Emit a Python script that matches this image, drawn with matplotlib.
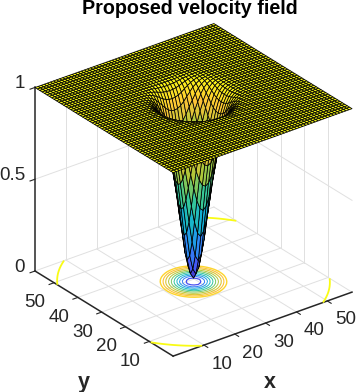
import numpy as np
import matplotlib
matplotlib.use("Agg")
import matplotlib.pyplot as plt
from matplotlib.colors import LinearSegmentedColormap, Normalize
from mpl_toolkits.mplot3d import proj3d

plt.rcParams['font.family'] = ['Liberation Sans', 'DejaVu Sans']

# Values
x_ticks = [10, 20, 30, 40, 50]
y_ticks = [10, 20, 30, 40, 50]
z_ticks = [0, 0.5, 1]
z_tick_labels = ['0', '0.5', '1']
axis_max = 58
pit_centre = 29
profile_radius = [0, 1, 2, 3, 4, 5, 6, 7, 8, 9, 10, 11, 12, 14, 20, 34, 36, 45]
profile_height = [0.02, 0.05, 0.13, 0.27, 0.42, 0.56, 0.68, 0.79, 0.87, 0.925, 0.96, 0.98, 0.99, 0.995, 0.997, 0.9989, 0.9991, 0.9995]
contour_levels = [0.13, 0.255, 0.36, 0.46, 0.56, 0.645, 0.725, 0.80, 0.855, 0.90, 0.999]
contour_widths = [0.9, 0.7, 0.7, 0.7, 0.7, 0.7, 0.7, 0.8, 0.8, 1.0, 1.3]
parula_colors = [(0.2422, 0.1504, 0.6603), (0.2810, 0.3228, 0.9579), (0.1786, 0.5289, 0.9682),
                 (0.0689, 0.6948, 0.8394), (0.2161, 0.7843, 0.5923), (0.6720, 0.7793, 0.2227),
                 (0.9970, 0.7659, 0.2199), (0.9769, 0.9839, 0.0805)]

W, H = 357, 392
fig = plt.figure(figsize=(W / 100, H / 100), dpi=100, facecolor='white')
ax = fig.add_axes([0, 0, 1, 1], projection='3d', computed_zorder=False)
ax.set_proj_type('ortho')
ax.view_init(elev=28, azim=232.7)
ax.set_box_aspect((225, 228, 208))
ax.set_xlim(0, axis_max, view_margin=0)
ax.set_ylim(0, axis_max, view_margin=0)
ax.set_zlim(0, 1, view_margin=0)
ax.set_axis_off()
ax.patch.set_alpha(0)

# Fit the box onto the pixel corners of the reference
M = ax.get_proj()
cx, cy, _ = proj3d.proj_transform(np.array([0., axis_max, axis_max, 0.]), np.array([axis_max, 0., axis_max, 0.]), np.zeros(4), M)
xlo, xhi = ax.viewLim.intervalx
ylo, yhi = ax.viewLim.intervaly
span = xhi - xlo
size = (352 - 35) * span / (cx[1] - cx[0])
left = 35 - (cx[0] - xlo) / span * size
bottom = (H - 271) - (cy[0] - ylo) / span * size
ax.set_position([left / W, bottom / H, size / W, size / H])


def label(x, y, z, text, dx=0, dy=0, **kw):
    """Place text at a 3D data point, offset by screen pixels."""
    px, py, _ = proj3d.proj_transform(x, y, z, M)
    fx = (left + (px - xlo) / span * size + dx) / W
    fy = (bottom + (py - ylo) / span * size + dy) / H
    fig.text(fx, fy, text, color=axc, **kw)


cmap = LinearSegmentedColormap.from_list('parula', parula_colors, N=256)
norm = Normalize(0, 1)

grid_col = '#e0e0e0'
glw = 0.7
for t in x_ticks:
    ax.plot([t, t], [0, axis_max], [0, 0], color=grid_col, lw=glw, zorder=1)
    ax.plot([t, t], [axis_max, axis_max], [0, 1], color=grid_col, lw=glw, zorder=1)
for t in y_ticks:
    ax.plot([0, axis_max], [t, t], [0, 0], color=grid_col, lw=glw, zorder=1)
    ax.plot([axis_max, axis_max], [t, t], [0, 1], color=grid_col, lw=glw, zorder=1)
for t in z_ticks:
    ax.plot([0, axis_max], [axis_max, axis_max], [t, t], color=grid_col, lw=glw, zorder=1)
    ax.plot([axis_max, axis_max], [0, axis_max], [t, t], color=grid_col, lw=glw, zorder=1)

# Axis rulers
axc = '#262626'
ax.plot([0, axis_max], [0, 0], [0, 0], color=axc, lw=1.1, zorder=2)
ax.plot([0, 0], [0, axis_max], [0, 0], color=axc, lw=1.1, zorder=2)
ax.plot([0, 0], [axis_max, axis_max], [0, 1], color=axc, lw=1.1, zorder=2)
for t in x_ticks:
    ax.plot([t, t], [0, -1.6], [0, 0], color=axc, lw=0.8, zorder=2)
    label(t, 0, 0, str(t), dx=18, dy=-19, ha='center', va='center', fontsize=13.5)
for t in y_ticks:
    ax.plot([0, -1.6], [t, t], [0, 0], color=axc, lw=0.8, zorder=2)
    label(0, t, 0, str(t), dx=-19, dy=-20, ha='center', va='center', fontsize=13.5)
for t, lab in zip(z_ticks, z_tick_labels):
    ax.plot([0, -1.6], [axis_max, axis_max], [t, t], color=axc, lw=0.8, zorder=2)
    label(0, axis_max, t, lab, dx=-10, dy=4, ha='right', va='center', fontsize=13.5)

label(0, 0, 0, 'x', dx=97, dy=-31.5, ha='center', va='baseline', fontsize=15.5, fontweight='bold')
label(0, 0, 0, 'y', dx=-89, dy=-26, ha='center', va='center', fontsize=15.5, fontweight='bold')

# Field
gx, gy = np.meshgrid(np.arange(0, axis_max + 1), np.arange(0, axis_max + 1))
radius = np.hypot(gx - pit_centre, gy - pit_centre)
field = np.interp(radius, profile_radius, profile_height)

ax.contour(gx, gy, field, levels=contour_levels, zdir='z', offset=0, cmap=cmap, norm=norm,
           linewidths=contour_widths, zorder=3)
ax.plot_surface(gx, gy, field, rstride=1, cstride=1, facecolors=cmap(norm(field)), shade=False,
                edgecolor='black', linewidth=0.55, antialiased=True, zorder=4)

fig.text(190 / W, 1 - 14.5 / H, 'Proposed velocity field', ha='center', va='baseline',
         fontsize=14.2, fontweight='bold', color='black')

fig.savefig('out.png', dpi=100, facecolor='white')
